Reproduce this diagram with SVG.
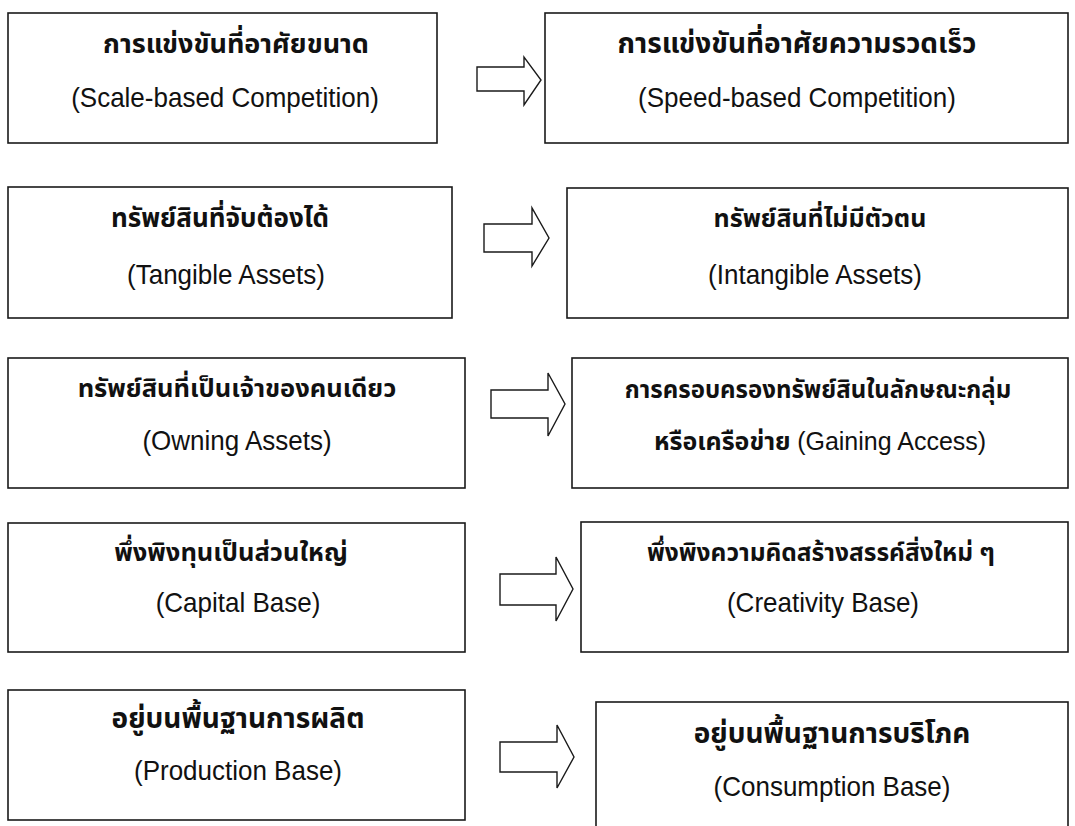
<svg xmlns="http://www.w3.org/2000/svg" width="1075" height="826" viewBox="0 0 1075 826">
<style>
.box{fill:#fff;stroke:#1a1a1a;stroke-width:1.6}
.arr{fill:#fff;stroke:#1a1a1a;stroke-width:1.4;stroke-linejoin:miter}
.th{font-family:"Noto Sans Thai","Noto Sans","DejaVu Sans",sans-serif;font-weight:bold;font-size:27px;fill:#111;text-anchor:middle}
.en{font-family:"Liberation Sans",Arial,sans-serif;font-size:26px;fill:#111;text-anchor:middle}
</style>
<rect width="1075" height="826" fill="#fff"/>
<g id="connectors">
<path class="arr" d="M477,67 H524 V57 L541,80 L524,105 V91 H477 Z"/>
<path class="arr" d="M484,224 H532 V208 L549,238 L532,266 V252 H484 Z"/>
<path class="arr" d="M491,390 H548 V373 L565,404 L548,436 V418 H491 Z"/>
<path class="arr" d="M500,574 H556 V557 L573,589 L556,621 V605 H500 Z"/>
<path class="arr" d="M500,742 H557 V725 L574,757 L557,788 V772 H500 Z"/>
</g>
<g id="n1"><rect class="box" x="8" y="13" width="429" height="130"/><text class="th" x="236" y="53">การแข่งขันที่อาศัยขนาด</text><text class="en" transform="translate(225,107) scale(1,1.08)">(Scale-based Competition)</text></g>
<g id="n2"><rect class="box" x="545" y="13" width="523" height="130"/><text class="th" x="797" y="53" style="font-size:28px">การแข่งขันที่อาศัยความรวดเร็ว</text><text class="en" transform="translate(797,107) scale(1,1.08)">(Speed-based Competition)</text></g>
<g id="n3"><rect class="box" x="8" y="187" width="444" height="131"/><text class="th" x="220" y="227" style="font-size:26px">ทรัพย์สินที่จับต้องได้</text><text class="en" transform="translate(226,284) scale(1,1.08)">(Tangible Assets)</text></g>
<g id="n4"><rect class="box" x="567" y="188" width="501" height="130"/><text class="th" x="820" y="227" style="font-size:25px">ทรัพย์สินที่ไม่มีตัวตน</text><text class="en" transform="translate(815,284) scale(1,1.08)">(Intangible Assets)</text></g>
<g id="n5"><rect class="box" x="8" y="358" width="457" height="130"/><text class="th" x="237" y="397" style="font-size:25.5px">ทรัพย์สินที่เป็นเจ้าของคนเดียว</text><text class="en" transform="translate(237,450) scale(1,1.08)">(Owning Assets)</text></g>
<g id="n6"><rect class="box" x="572" y="358" width="496" height="130"/><text class="th" x="818" y="398" style="font-size:24px">การครอบครองทรัพย์สินในลักษณะกลุ่ม</text><text class="th" x="820" y="450" style="font-size:25px">หรือเครือข่าย <tspan style="font-family:'Liberation Sans',Arial,sans-serif;font-weight:normal;font-size:25px">(Gaining Access)</tspan></text></g>
<g id="n7"><rect class="box" x="8" y="523" width="457" height="129"/><text class="th" x="231" y="561" style="font-size:25.5px">พึ่งพิงทุนเป็นส่วนใหญ่</text><text class="en" transform="translate(238,612) scale(1,1.08)">(Capital Base)</text></g>
<g id="n8"><rect class="box" x="581" y="522" width="487" height="130"/><text class="th" x="821" y="561" style="font-size:24.5px">พึ่งพิงความคิดสร้างสรรค์สิ่งใหม่ ๆ</text><text class="en" transform="translate(823,612) scale(1,1.08)">(Creativity Base)</text></g>
<g id="n9"><rect class="box" x="8" y="690" width="457" height="130"/><text class="th" x="238" y="728" style="font-size:28px">อยู่บนพื้นฐานการผลิต</text><text class="en" transform="translate(238,780) scale(1,1.08)">(Production Base)</text></g>
<g id="n10"><rect class="box" x="596" y="702" width="472" height="130"/><text class="th" x="832" y="743" style="font-size:28px">อยู่บนพื้นฐานการบริโภค</text><text class="en" transform="translate(832,796) scale(1,1.08)">(Consumption Base)</text></g>
</svg>
